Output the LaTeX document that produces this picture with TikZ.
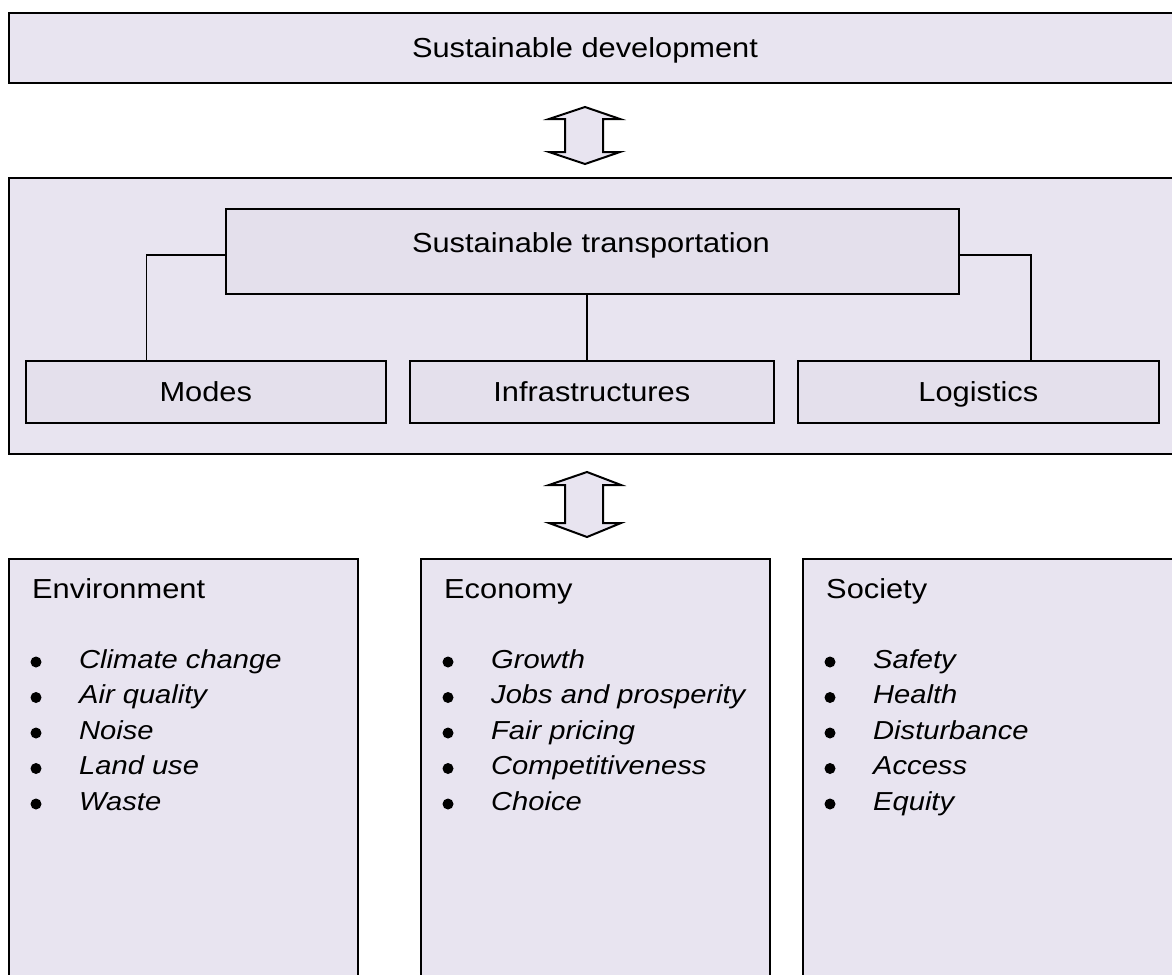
\documentclass[tikz,border=0pt]{standalone}
\usepackage{fontspec}
\setmainfont{Liberation Sans}
\usepackage{graphicx}
\usetikzlibrary{calc}

\definecolor{panel}{HTML}{E8E4F0}
\definecolor{innerfill}{HTML}{E4E0EC}

% slightly widened lettering
\newcommand{\widetext}[1]{\scalebox{1.12}[1]{#1}}

\begin{document}
\begin{tikzpicture}[x=1pt,y=-1pt,
  panelbox/.style={draw=black, line width=1.8pt, fill=panel, inner sep=0pt, anchor=north west},
  innerbox/.style={draw=black, line width=1.6pt, fill=innerfill, inner sep=0pt, anchor=north west},
  title/.style={font=\fontsize{27.5}{33}\selectfont, inner sep=0pt, anchor=base},
  heading/.style={font=\fontsize{27.5}{33}\selectfont, inner sep=0pt, anchor=base west},
  item/.style={font=\fontsize{26}{31}\selectfont\itshape, inner sep=0pt, anchor=base west},
  bulletdot/.style={circle, fill=black, inner sep=0pt, minimum size=11pt},
  conn/.style={draw=black, line width=1.6pt},
  blockarrow/.style={draw=black, line width=2pt, fill=panel, line join=miter}
]
\useasboundingbox (0,0) rectangle (1172,974);
\clip (0,0) rectangle (1172,974);

% top level
\node[panelbox, minimum width=1200pt, minimum height=70pt] (sd) at (8,12) {};
\node[title] (sdtext) at (585,57) {\widetext{Sustainable development}};

% double block arrow between the two upper panels
\draw[blockarrow] (565,119) -- (549,119) -- (585,107) -- (620,119) -- (603,119)
  -- (603,152) -- (620,152) -- (585,164) -- (549,152) -- (565,152) -- cycle;

% transportation panel
\node[panelbox, minimum width=1200pt, minimum height=276pt] (tp) at (8,177) {};
\node[innerbox, minimum width=733pt, minimum height=85pt] (st) at (225,208) {};
\node[title] (sttext) at (591,252) {\widetext{Sustainable transportation}};

\node[innerbox, minimum width=360pt, minimum height=62pt] (modes) at (25,360) {};
\node[innerbox, minimum width=364pt, minimum height=62pt] (infra) at (409,360) {};
\node[innerbox, minimum width=361pt, minimum height=62pt] (logi) at (797,360) {};
\node[title] (modestext) at (modes.center) [yshift=-10pt] {\widetext{Modes}};
\node[title] (infratext) at (infra.center) [yshift=-10pt] {\widetext{Infrastructures}};
\node[title] (logitext) at (logi.center) [yshift=-10pt] {\widetext{Logistics}};

% tree connectors
\coordinate (stl) at ($(st.north west)!0.54!(st.south west)$);
\coordinate (str) at ($(st.north east)!0.54!(st.south east)$);
\coordinate (stb) at ($(st.south west)!0.4925!(st.south east)$);
\coordinate (ml) at ($(modes.north west)!0.336!(modes.north east)$);
\coordinate (lr) at ($(logi.north west)!0.645!(logi.north east)$);
\draw[conn] (stl) -| (ml);
\draw[conn] (str) -| (lr);
\draw[conn] (stb) -- (stb |- infra.north);

% double block arrow between transportation and the three pillars
\draw[blockarrow] (565,485) -- (549,485) -- (587,472) -- (621,485) -- (603,485)
  -- (603,523) -- (621,523) -- (587,537) -- (549,523) -- (565,523) -- cycle;

% three pillars
\node[panelbox, minimum width=349pt, minimum height=500pt] (env) at (8,558) {};
\node[panelbox, minimum width=349pt, minimum height=500pt] (eco) at (420,558) {};
\node[panelbox, minimum width=400pt, minimum height=500pt] (soc) at (802,558) {};

\node[heading] (envhead) at (32,598) {\widetext{Environment}};
\node[heading] (ecohead) at (444,598) {\widetext{Economy}};
\node[heading] (sochead) at (826,598) {\widetext{Society}};

\foreach [count=\i] \t in {Climate change, Air quality, Noise, Land use, Waste} {
  \node[bulletdot] (envb\i) at (36,{662+35.5*(\i-1)}) {};
  \node[item] (envi\i) at (79,{668+35.5*(\i-1)}) {\widetext{\t}};
}
\foreach [count=\i] \t in {Growth, Jobs and prosperity, Fair pricing, Competitiveness, Choice} {
  \node[bulletdot] (ecob\i) at (448,{662+35.5*(\i-1)}) {};
  \node[item] (ecoi\i) at (491,{668+35.5*(\i-1)}) {\widetext{\t}};
}
\foreach [count=\i] \t in {Safety, Health, Disturbance, Access, Equity} {
  \node[bulletdot] (socb\i) at (830,{662+35.5*(\i-1)}) {};
  \node[item] (soci\i) at (873,{668+35.5*(\i-1)}) {\widetext{\t}};
}
\end{tikzpicture}
\end{document}
